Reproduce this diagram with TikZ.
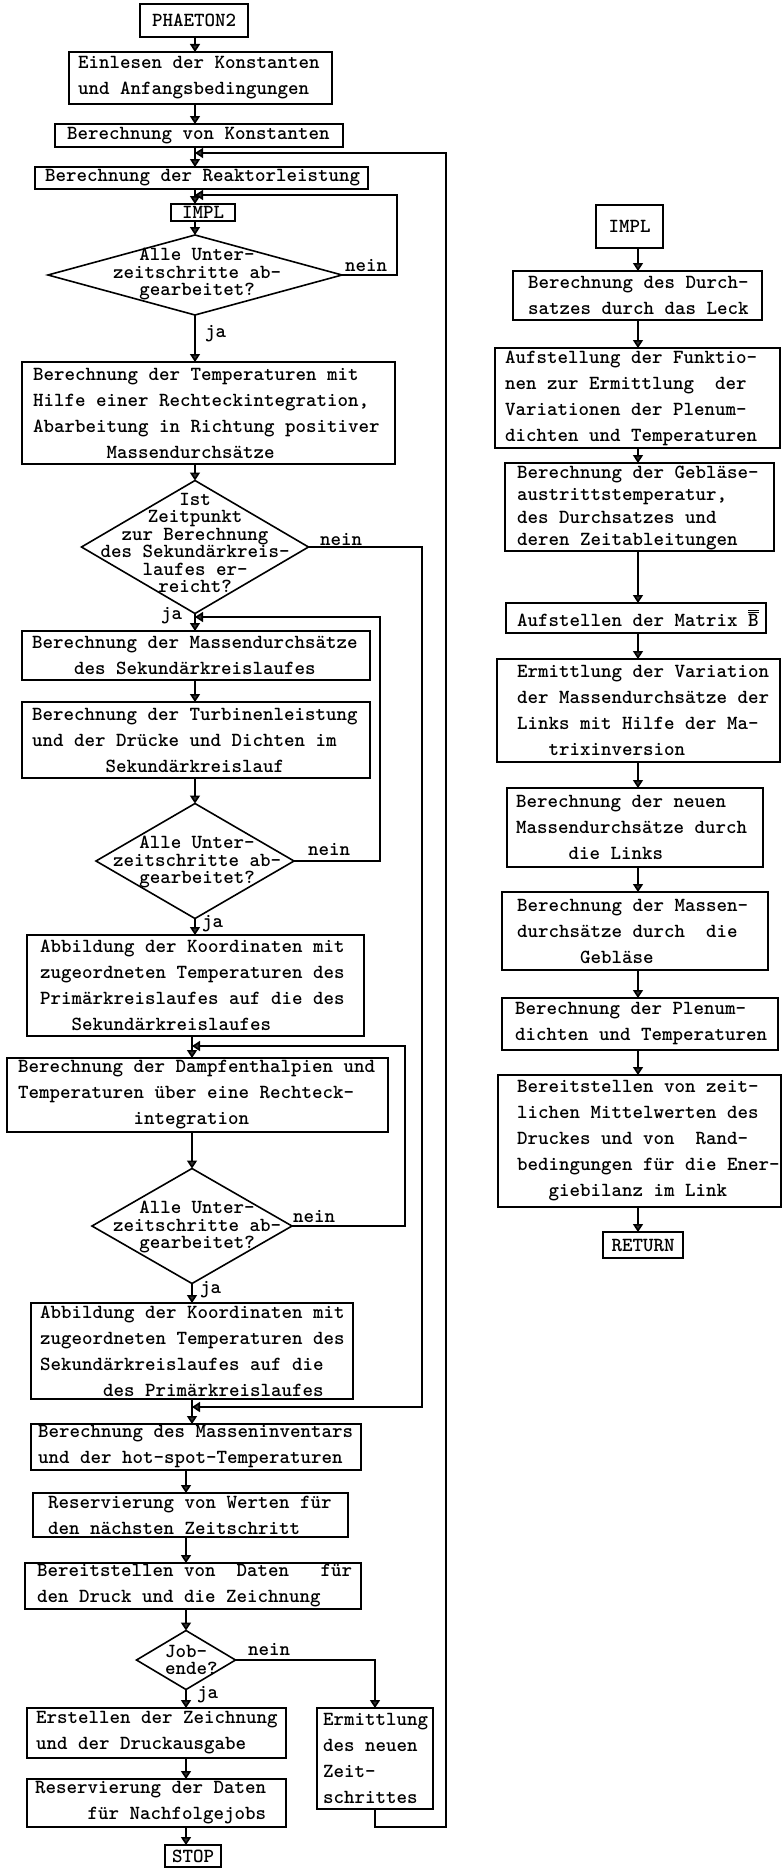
\documentclass[tikz,border=0pt]{standalone}
\usetikzlibrary{arrows.meta,shapes.geometric}
\newcommand\tfont{\fontsize{20}{26}\selectfont\ttfamily\bfseries}
\newcommand\tfontb{\fontsize{20}{22.5}\selectfont\ttfamily\bfseries}
\newcommand\dfont{\fontsize{20}{17.5}\selectfont\ttfamily\bfseries}
\newlength\chw \setlength\chw{10.5pt}
\newcommand\ind[1]{\hspace*{#1\chw}}
% name, left, top, right, bottom, pad, text
\newcommand\boxnode[7]{%
  \node[boxst, minimum width={#4-#2}, minimum height={#5-#3}] (#1) at ({(#2+#4)/2},{(#3+#5)/2}) {};
  \node[txt, anchor=west] (#1t) at ([xshift=#6pt]#1.west) {#7};}
% name, left, top, right, bottom, text (centred)
\newcommand\cboxnode[6]{%
  \node[boxst, font=\tfont, minimum width={#4-#2}, minimum height={#5-#3}] (#1) at ({(#2+#4)/2},{(#3+#5)/2}) {#6};}
% name, cx, cy, w, h, tx, ty, text
\newcommand\dnode[8]{%
  \node[dia, minimum width=#4, minimum height=#5] (#1) at (#2,#3) {};
  \node[dtxt] (#1t) at (#6,#7) {#8};}
\begin{document}
\begin{tikzpicture}[x=1pt,y=-1pt,
  boxst/.style={draw, line width=1.6pt, inner sep=0pt, outer sep=0pt, rectangle},
  txt/.style={font=\tfont, align=left, inner sep=0pt},
  txtb/.style={font=\tfontb, align=left, inner sep=0pt},
  dia/.style={diamond, draw, line width=1.6pt, inner sep=0pt, outer sep=0pt},
  dtxt/.style={font=\dfont, align=center, inner sep=0pt},
  lbl/.style={font=\tfont, inner sep=0pt, anchor=base west},
  arr/.style={line width=1.6pt, -{Triangle[length=8pt,width=10pt,fill=black!80]}}]
\useasboundingbox (0,0) rectangle (782,1868);

% ---------- left column ----------
\cboxnode{st}{140}{4}{248}{37}{PHAETON2}
\boxnode{ein}{69}{52}{332}{104}{9}{Einlesen der Konstanten\\und Anfangsbedingungen}
\boxnode{kon}{55}{124}{343}{147}{12}{Berechnung von Konstanten}
\boxnode{rea}{35}{167}{368}{189}{10}{Berechnung der Reaktorleistung}
\cboxnode{impl}{171}{204}{235}{221}{IMPL}
\dnode{d1}{195}{275}{294}{80}{197}{274}{Alle Unter-\\zeitschritte ab-\\gearbeitet?}
\boxnode{tmp}{22}{362}{395}{464}{11}{Berechnung der Temperaturen mit\\Hilfe einer Rechteckintegration,\\Abarbeitung in Richtung positiver\\\ind{7}Massendurchsätze}
\dnode{d2}{195}{547}{227}{133}{195}{543}{Ist\\Zeitpunkt\\zur Berechnung\\des Sekundärkreis-\\laufes er-\\reicht?}
\boxnode{mas}{22}{631}{370}{680}{10}{Berechnung der Massendurchsätze\\\ind{4}des Sekundärkreislaufes}
\boxnode{tur}{22}{702}{370}{778}{10}{Berechnung der Turbinenleistung\\und der Drücke und Dichten im\\\ind{7}Sekundärkreislauf}
\dnode{d3}{195}{861}{198}{115}{197}{862}{Alle Unter-\\zeitschritte ab-\\gearbeitet?}
\boxnode{ab1}{27}{935}{364}{1036}{13}{Abbildung der Koordinaten mit\\zugeordneten Temperaturen des\\Primärkreislaufes auf die des\\\ind{3}Sekundärkreislaufes}
\boxnode{dam}{7}{1058}{388}{1132}{11}{Berechnung der Dampfenthalpien und\\Temperaturen über eine Rechteck-\\\ind{11}integration}
\dnode{d4}{192}{1226}{200}{115}{197}{1227}{Alle Unter-\\zeitschritte ab-\\gearbeitet?}
\boxnode{ab2}{31}{1303}{353}{1399}{9}{Abbildung der Koordinaten mit\\zugeordneten Temperaturen des\\Sekundärkreislaufes auf die\\\ind{6}des Primärkreislaufes}
\boxnode{inv}{31}{1424}{361}{1470}{7}{Berechnung des Masseninventars\\und der hot-spot-Temperaturen}
\boxnode{res}{33}{1493}{348}{1537}{15}{Reservierung von Werten für\\den nächsten Zeitschritt}
\boxnode{ber}{25}{1563}{361}{1609}{12}{Bereitstellen von~~Daten~~~für\\den Druck und die Zeichnung}
\node[dia, minimum width=99, minimum height=59] (job) at (186,1660) {};
\node[dtxt, align=left, anchor=west] (jobt) at (165,1660) {Job-\\ende?};
\boxnode{ers}{27}{1708}{286}{1758}{9}{Erstellen der Zeichnung\\und der Druckausgabe}
\boxnode{erm}{317}{1708}{433}{1809}{6}{Ermittlung\\des neuen\\Zeit-\\schrittes}
\boxnode{rsd}{27}{1779}{286}{1827}{8}{Reservierung der Daten\\\ind{5}für Nachfolgejobs}
\cboxnode{stp}{165}{1845}{221}{1867}{STOP}

% ---------- right column ----------
\cboxnode{rimpl}{596}{205}{663}{248}{IMPL}
\boxnode{rdur}{513}{271}{762}{320}{15}{Berechnung des Durch-\\satzes durch das Leck}
\boxnode{rauf}{495}{348}{780}{448}{10}{Aufstellung der Funktio-\\nen zur Ermittlung~~der\\Variationen der Plenum-\\dichten und Temperaturen}
\node[boxst, minimum width=269, minimum height=88] (rgeb) at (639.5,507) {};
\node[txtb, anchor=west] (rgebt) at ([xshift=12pt,yshift=-1pt]rgeb.west) {Berechnung der Gebläse-\\austrittstemperatur,\\des Durchsatzes und\\deren Zeitableitungen};
\boxnode{rmat}{506}{603}{766}{633}{11}{Aufstellen der Matrix $\overline{\overline{\mbox{B}}}$}
\boxnode{rvar}{497}{659}{780}{762}{20}{Ermittlung der Variation\\der Massendurchsätze der\\Links mit Hilfe der Ma-\\\ind{3}trixinversion}
\boxnode{rneu}{507}{788}{763}{867}{9}{Berechnung der neuen\\Massendurchsätze durch\\\ind{5}die Links}
\boxnode{rmgb}{502}{892}{768}{970}{15}{Berechnung der Massen-\\durchsätze durch~~die\\\ind{6}Gebläse}
\boxnode{rple}{502}{998}{778}{1050}{13}{Berechnung der Plenum-\\dichten und Temperaturen}
\boxnode{rbrt}{498}{1075}{781}{1207}{19}{Bereitstellen von zeit-\\lichen Mittelwerten des\\Druckes und von~~Rand-\\bedingungen für die Ener-\\\ind{3}giebilanz im Link}
\cboxnode{rret}{603}{1232}{683}{1258}{RETURN}

% ---------- helper coordinates ----------
\coordinate (mA) at (195,0);
\coordinate (mB) at (192,0);
\coordinate (mC) at (186,0);
\coordinate (mR) at (638,0);
\coordinate (j1) at (195,153);
\coordinate (j2) at (195,195);
\coordinate (j3) at (195,617);
\coordinate (j4) at (192,1046);
\coordinate (j5) at (192,1407);
\coordinate (k1) at (397,195);
\coordinate (k2) at (422,1407);
\coordinate (k3) at (380,617);
\coordinate (k4) at (405,1046);
\coordinate (k5) at (446,1827);

% ---------- main flow ----------
\draw[arr] (st.south -| mA) -- (ein.north -| mA);
\draw[arr] (ein.south -| mA) -- (kon.north -| mA);
\draw[arr] (kon.south -| mA) -- (rea.north -| mA);
\draw[arr] (rea.south -| mA) -- (impl.north -| mA);
\draw[arr] (impl.south -| mA) -- (d1.north);
\draw[arr] (d1.south) -- (tmp.north -| d1.south);
\draw[arr] (tmp.south -| mA) -- (d2.north);
\draw[arr] (d2.south) -- (mas.north -| d2.south);
\draw[arr] (mas.south -| mA) -- (tur.north -| mA);
\draw[arr] (tur.south -| mA) -- (d3.north);
\draw[arr] (d3.south) -- (ab1.north -| d3.south);
\draw[arr] (ab1.south -| mB) -- (dam.north -| mB);
\draw[arr] (dam.south -| mB) -- (d4.north);
\draw[arr] (d4.south) -- (ab2.north -| d4.south);
\draw[arr] (ab2.south -| mB) -- (inv.north -| mB);
\draw[arr] (inv.south -| mC) -- (res.north -| mC);
\draw[arr] (res.south -| mC) -- (ber.north -| mC);
\draw[arr] (ber.south -| mC) -- (job.north);
\draw[arr] (job.south) -- (ers.north -| job.south);
\draw[arr] (ers.south -| mC) -- (rsd.north -| mC);
\draw[arr] (rsd.south -| mC) -- (stp.north -| mC);

% ---------- loops ----------
\draw[arr] (d1.east) -| (k1) -- (j2);
\draw[arr] (d2.east) -| (k2) -- (j5);
\draw[arr] (d3.east) -| (k3) -- (j3);
\draw[arr] (d4.east) -| (k4) -- (j4);
\draw[arr] (job.east) -| (erm.north);
\draw[arr] (erm.south) |- (k5) |- (j1);

% ---------- labels ----------
\node[lbl] (n1) at (345,271) {nein};
\node[lbl] (y1) at (205,337) {ja};
\node[lbl] (n2) at (320,545) {nein};
\node[lbl] (y2) at (161,619) {ja};
\node[lbl] (n3) at (308,855) {nein};
\node[lbl] (y3) at (202,927) {ja};
\node[lbl] (n4) at (293,1222) {nein};
\node[lbl] (y4) at (200,1293) {ja};
\node[lbl] (n5) at (248,1655) {nein};
\node[lbl] (y5) at (197,1698) {ja};

% ---------- right column flow ----------
\foreach \a/\b in {rimpl/rdur,rdur/rauf,rauf/rgeb,rgeb/rmat,rmat/rvar,rvar/rneu,rneu/rmgb,rmgb/rple,rple/rbrt,rbrt/rret}
  \draw[arr] (\a.south -| mR) -- (\b.north -| mR);
\end{tikzpicture}
\end{document}
